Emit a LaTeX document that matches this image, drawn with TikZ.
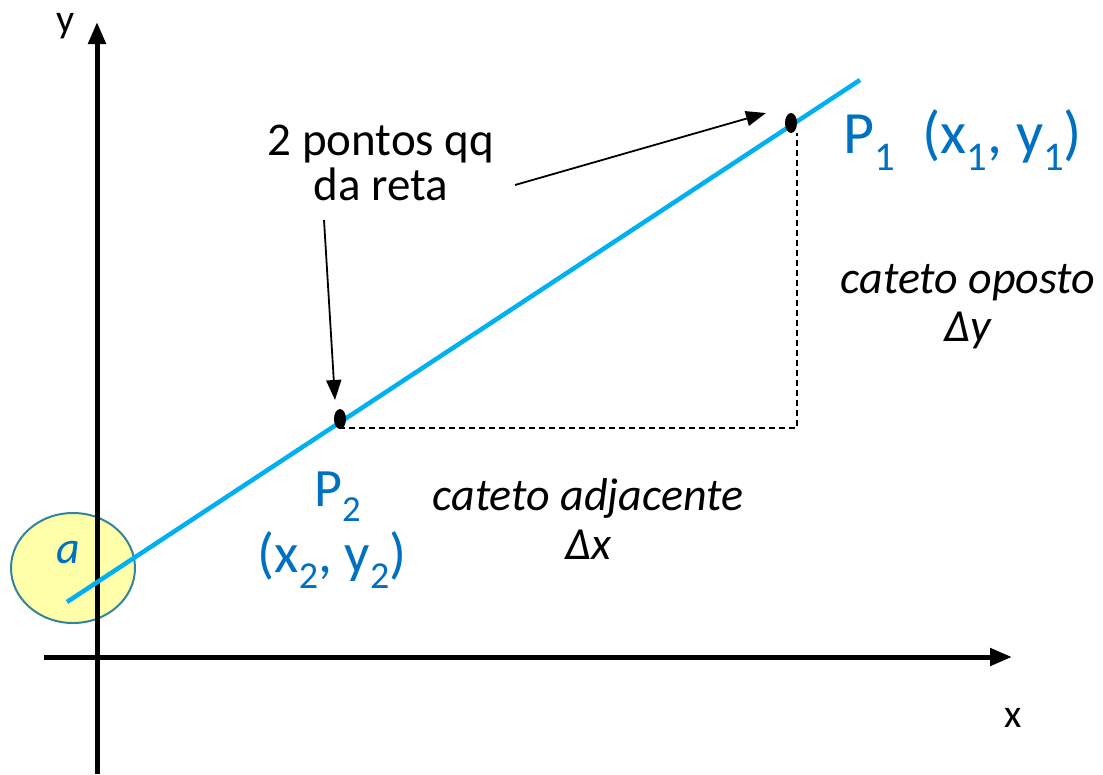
\documentclass[tikz,border=0pt]{standalone}
\usepackage{fontspec}
\setmainfont{Carlito}
\usetikzlibrary{arrows.meta,shapes.geometric}
\definecolor{linecyan}{RGB}{0,176,240}
\definecolor{textblue}{RGB}{0,112,192}
\definecolor{pale}{RGB}{255,255,170}
\definecolor{teal}{RGB}{49,132,155}
\newcommand{\sz}[1]{\fontsize{#1}{#1}\selectfont}
\newcommand{\sbs}[1]{\raisebox{-0.28em}{\scalebox{0.68}{#1}}}
\tikzset{
  axis/.style={line width=5pt,-{Triangle[length=22pt,width=17pt]}},
  dot/.style={ellipse,fill=black,inner sep=0pt,minimum width=12pt,minimum height=20pt},
  pointer/.style={line width=1.8pt,-{Triangle[length=20pt,width=15pt]}},
  guide/.style={dashed,line width=1.5pt,dash pattern=on 6pt off 4pt},
}
\begin{document}
\begin{tikzpicture}[x=1pt,y=-1pt]
\useasboundingbox (0,0) rectangle (1103,774);
% Intercept
\node[ellipse,draw=teal,line width=2pt,fill=pale,minimum width=124pt,minimum height=110pt] (elipse) at (73,568) {};
\node[textblue] (a) at (68,553) {\sz{46}\itshape a};
% Axes
\draw[axis] (97,774) -- (97,22);
\draw[axis] (44,657) -- (1012,657);
\node (ylab) at (66,26) {\sz{40}y};
\node (xlab) at (1013,718) {\sz{40}x};
% Straight line
\draw[linecyan,line width=4.5pt] (67,602) -- (860,80);
% Points
\node[dot] (P1) at (791,123) {};
\node[dot] (P2) at (340,419) {};
% Legs of the triangle
\coordinate (C) at (797,428);
\draw[guide] (P2.south) |- (C) -- (797,133);
\node[textblue] (P1lab) at (963,140) {\sz{60}P\sbs{1}\hspace{0.45em}(x\sbs{1}, y\sbs{1})};
\node[textblue,align=center] (P2lab) at (332,530) {\sz{54}\hspace{0.2em}P\sbs{2}\\[9pt]\sz{56}(x\sbs{2}, y\sbs{2})};
% Leg labels
\node[align=center] (oposto) at (968,307) {\sz{46}\itshape cateto oposto\\[10pt]\sz{46}\itshape Δy};
\node[align=center] (adjacente) at (588,519) {\sz{46}\itshape cateto adjacente\\[10pt]\sz{46}\itshape Δx};
% Annotation
\node[align=center] (note) at (381,163) {\sz{47}2 pontos qq\\[4pt]\sz{47}da reta};
\coordinate (n1) at (515,185);
\coordinate (t1) at (766,113);
\coordinate (n2) at (324,220);
\coordinate (t2) at (335,400);
\draw[pointer] (n1) -- (t1);
\draw[pointer] (n2) -- (t2);
\end{tikzpicture}
\end{document}
